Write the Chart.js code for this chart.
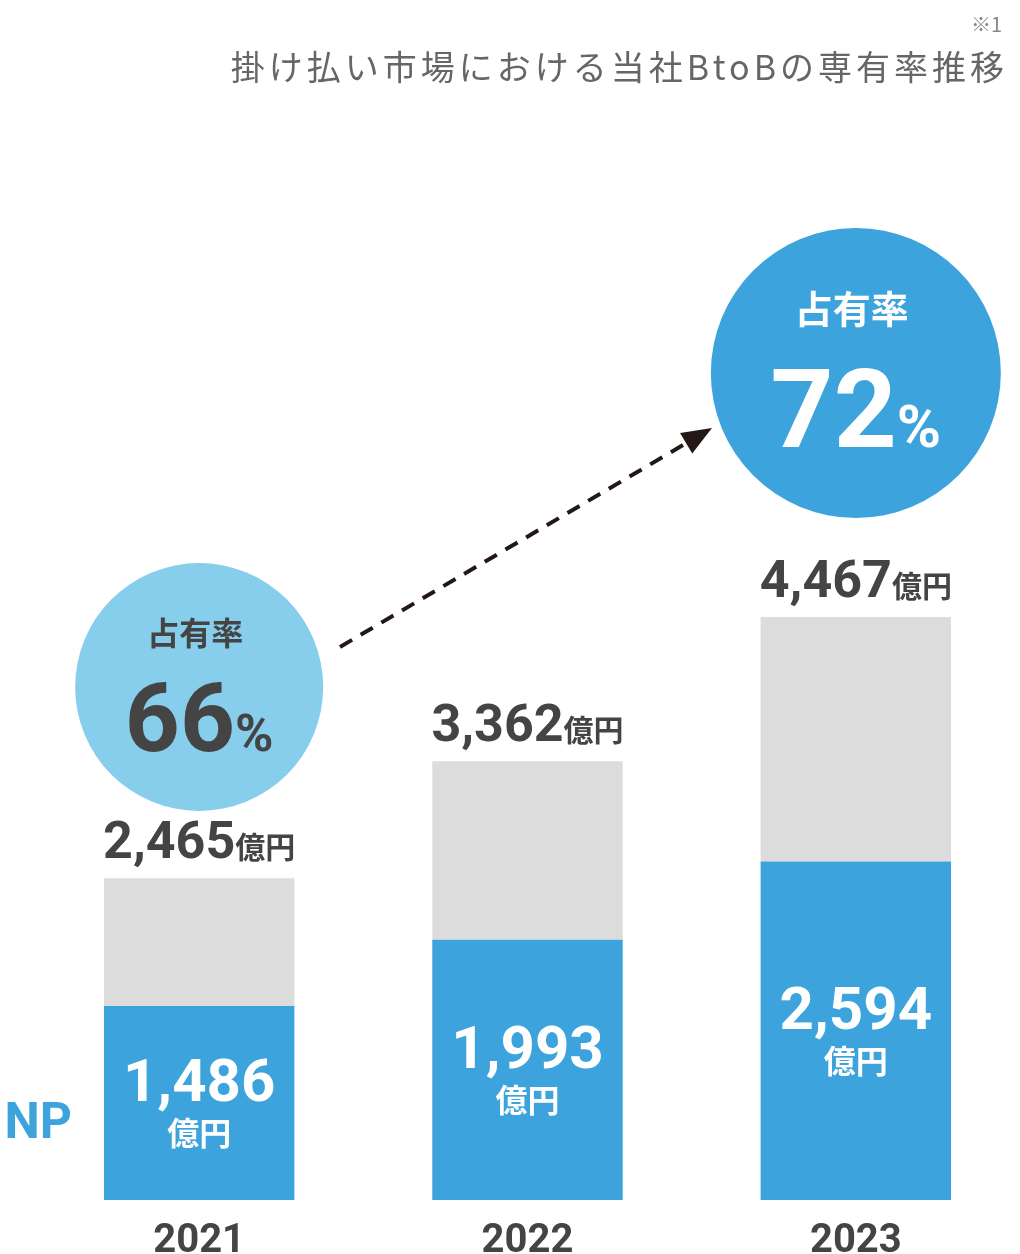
<!DOCTYPE html>
<html>
<head>
<meta charset="utf-8">
<script src="https://cdn.jsdelivr.net/npm/chart.js@4/dist/chart.umd.min.js"></script>
<style>
  html, body { margin: 0; padding: 0; background: #fff; }
  #wrap { width: 1020px; height: 1254px; }
</style>
</head>
<body>
<div id="wrap"><canvas id="chart" width="1020" height="1254"></canvas></div>
<script>
// ---- Data ----
const years = ["2021", "2022", "2023"];
const totals = [2465, 3362, 4467];      // 市場規模（億円）
const shares = [1486, 1993, 2594];      // 当社BtoB（億円）
const rates = ["66", "72"];             // 占有率 2021 / 2023

const BLUE = "#3ca3dc";
const LIGHT = "#87cdec";
const GRAY = "#dcdcdc";
const DARK = "#444444";
const JP = '"Noto Sans CJK JP", "Noto Sans", sans-serif';
const NUM = 'Roboto, "DejaVu Sans", sans-serif';

const rest = totals.map((t, i) => t - shares[i]);

// ---- Overlay: labels, circles, arrow ----
const overlay = {
  id: "overlay",
  afterDraw(chart) {
    const ctx = chart.ctx;
    const blue = chart.getDatasetMeta(0).data;
    const gray = chart.getDatasetMeta(1).data;
    ctx.save();

    // title
    ctx.fillStyle = "#666";
    ctx.textAlign = "right";
    ctx.textBaseline = "alphabetic";
    ctx.font = "34px " + JP;
    ctx.letterSpacing = "4px";
    ctx.fillText("掛け払い市場における当社BtoBの専有率推移", 1008, 80);
    ctx.letterSpacing = "0px";
    ctx.fillStyle = "#888";
    ctx.font = "20px " + JP;
    ctx.fillText("※1", 1002, 32);

    // NP label
    ctx.fillStyle = BLUE;
    ctx.textAlign = "right";
    ctx.font = "bold 50px " + NUM;
    ctx.fillText("NP", 72, 1138);

    blue.forEach((bar, i) => {
      const x = bar.x;
      // total above bar
      const top = gray[i].y;
      const num = totals[i].toLocaleString("en-US");
      ctx.font = "bold 52px " + NUM;
      const w1 = ctx.measureText(num).width;
      ctx.font = "bold 30px " + JP;
      const w2 = ctx.measureText("億円").width;
      const sx = x - (w1 + w2) / 2;
      ctx.fillStyle = DARK;
      ctx.textAlign = "left";
      ctx.font = "bold 52px " + NUM;
      ctx.fillText(num, sx, top - 20);
      ctx.font = "bold 30px " + JP;
      ctx.fillText("億円", sx + w1, top - 20);

      // share inside blue bar
      const mid = (bar.y + bar.base) / 2;
      ctx.fillStyle = "#fff";
      ctx.textAlign = "center";
      ctx.font = "bold 60px " + NUM;
      ctx.fillText(shares[i].toLocaleString("en-US"), x, mid - 2);
      ctx.font = "bold 32px " + JP;
      ctx.fillText("億円", x, mid + 42);

      // year
      ctx.fillStyle = DARK;
      ctx.font = "bold 40px " + NUM;
      ctx.fillText(years[i], x, 1252);
    });

    // circles
    function bubble(cx, cy, r, fill, color, rate, big) {
      ctx.beginPath();
      ctx.arc(cx, cy, r, 0, Math.PI * 2);
      ctx.fillStyle = fill;
      ctx.fill();
      ctx.fillStyle = color;
      ctx.textAlign = "center";
      ctx.font = "bold " + (big ? 38 : 32) + "px " + JP;
      ctx.fillText("占有率", cx - 4, cy - (big ? 50 : 42));
      ctx.font = "bold " + (big ? 110 : 96) + "px " + NUM;
      const wn = ctx.measureText(rate).width;
      ctx.font = "bold " + (big ? 60 : 52) + "px " + NUM;
      const wp = ctx.measureText("%").width;
      const sx = cx - (wn + wp) / 2;
      ctx.textAlign = "left";
      ctx.font = "bold " + (big ? 110 : 96) + "px " + NUM;
      ctx.fillText(rate, sx, cy + (big ? 74 : 64));
      ctx.font = "bold " + (big ? 60 : 52) + "px " + NUM;
      ctx.fillText("%", sx + wn, cy + (big ? 74 : 64));
    }
    bubble(blue[0].x, 687, 124, LIGHT, DARK, rates[0], false);
    bubble(blue[2].x, 373, 145, BLUE, "#fff", rates[1], true);

    // dashed arrow
    const ax = 340, ay = 647, bx = 712, by = 428;
    const ang = Math.atan2(by - ay, bx - ax);
    ctx.strokeStyle = "#231815";
    ctx.lineWidth = 4;
    ctx.setLineDash([14, 10]);
    ctx.beginPath();
    ctx.moveTo(ax, ay);
    ctx.lineTo(bx - 20 * Math.cos(ang), by - 20 * Math.sin(ang));
    ctx.stroke();
    ctx.setLineDash([]);
    ctx.fillStyle = "#231815";
    ctx.beginPath();
    ctx.moveTo(bx, by);
    ctx.lineTo(bx - 30 * Math.cos(ang) + 12 * Math.sin(ang), by - 30 * Math.sin(ang) - 12 * Math.cos(ang));
    ctx.lineTo(bx - 30 * Math.cos(ang) - 12 * Math.sin(ang), by - 30 * Math.sin(ang) + 12 * Math.cos(ang));
    ctx.closePath();
    ctx.fill();

    ctx.restore();
  }
};

new Chart(document.getElementById("chart"), {
  type: "bar",
  data: {
    labels: years,
    datasets: [
      { data: shares, backgroundColor: BLUE, borderWidth: 0 },
      { data: rest, backgroundColor: GRAY, borderWidth: 0 }
    ]
  },
  options: {
    responsive: false,
    animation: false,
    layout: { padding: { left: 35, right: 0, top: 0, bottom: 54 } },
    datasets: { bar: { barPercentage: 1, categoryPercentage: 0.58 } },
    plugins: { legend: { display: false }, tooltip: { enabled: false } },
    scales: {
      x: { stacked: true, display: false },
      y: { stacked: true, display: false, min: 0, max: 9194 }
    }
  },
  plugins: [overlay]
});
</script>
</body>
</html>
